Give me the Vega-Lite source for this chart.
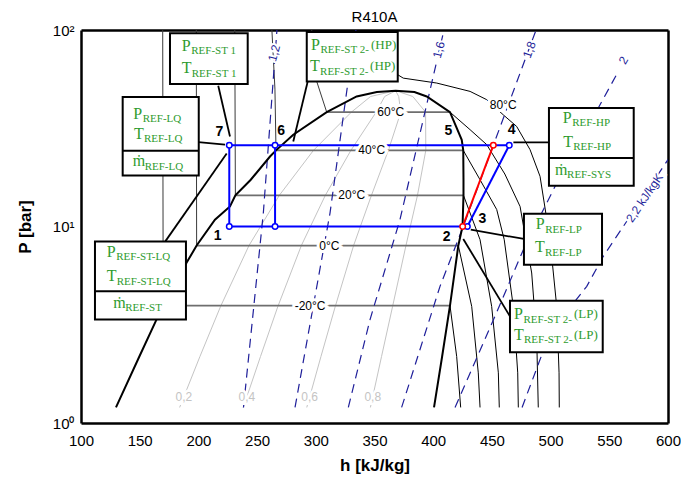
{
  "$schema": "https://vega.github.io/schema/vega-lite/v6.json",
  "width": 587,
  "height": 393,
  "autosize": "none",
  "padding": {"left": 81, "top": 30, "right": 13, "bottom": 59},
  "background": "white",
  "config": {"view": {"stroke": null}, "font": "Liberation Sans"},
  "title": {"text": "R410A", "fontSize": 15, "fontWeight": "normal", "font": "Liberation Sans", "color": "black", "offset": 0, "dy": 2},
  "datasets": {
    "lines": [
      {"kind": "dome", "id": "dome", "i": 1, "h": 129.8, "P": 1.2},
      {"kind": "dome", "id": "dome", "i": 2, "h": 149.7, "P": 2.18},
      {"kind": "dome", "id": "dome", "i": 3, "h": 163.5, "P": 3.28},
      {"kind": "dome", "id": "dome", "i": 4, "h": 170.0, "P": 3.96},
      {"kind": "dome", "id": "dome", "i": 5, "h": 190.0, "P": 6.55},
      {"kind": "dome", "id": "dome", "i": 6, "h": 198.5, "P": 8.0},
      {"kind": "dome", "id": "dome", "i": 7, "h": 214.1, "P": 10.83},
      {"kind": "dome", "id": "dome", "i": 8, "h": 226.9, "P": 12.65},
      {"kind": "dome", "id": "dome", "i": 9, "h": 231.5, "P": 14.4},
      {"kind": "dome", "id": "dome", "i": 10, "h": 244.6, "P": 17.3},
      {"kind": "dome", "id": "dome", "i": 11, "h": 261.0, "P": 22.7},
      {"kind": "dome", "id": "dome", "i": 12, "h": 266.1, "P": 24.4},
      {"kind": "dome", "id": "dome", "i": 13, "h": 280.8, "P": 29.3},
      {"kind": "dome", "id": "dome", "i": 14, "h": 309.3, "P": 38.2},
      {"kind": "dome", "id": "dome", "i": 15, "h": 334.8, "P": 45.9},
      {"kind": "dome", "id": "dome", "i": 16, "h": 352.0, "P": 48.3},
      {"kind": "dome", "id": "dome", "i": 17, "h": 368.0, "P": 49.1},
      {"kind": "dome", "id": "dome", "i": 18, "h": 384.0, "P": 48.3},
      {"kind": "dome", "id": "dome", "i": 19, "h": 394.5, "P": 45.9},
      {"kind": "dome", "id": "dome", "i": 20, "h": 414.3, "P": 38.2},
      {"kind": "dome", "id": "dome", "i": 21, "h": 424.3, "P": 27.6},
      {"kind": "dome", "id": "dome", "i": 22, "h": 425.6, "P": 24.4},
      {"kind": "dome", "id": "dome", "i": 23, "h": 425.8, "P": 17.3},
      {"kind": "dome", "id": "dome", "i": 24, "h": 425.8, "P": 14.4},
      {"kind": "dome", "id": "dome", "i": 25, "h": 425.0, "P": 10.0},
      {"kind": "dome", "id": "dome", "i": 26, "h": 421.4, "P": 8.0},
      {"kind": "dome", "id": "dome", "i": 27, "h": 414.3, "P": 3.96},
      {"kind": "dome", "id": "dome", "i": 28, "h": 407.6, "P": 2.18},
      {"kind": "dome", "id": "dome", "i": 29, "h": 400.7, "P": 1.2},

      {"kind": "iso", "id": "i-20", "i": 1, "h": 170.0, "P": 3.96},
      {"kind": "iso", "id": "i-20", "i": 2, "h": 414.3, "P": 3.96},
      {"kind": "iso", "id": "i0", "i": 1, "h": 198.5, "P": 8.0},
      {"kind": "iso", "id": "i0", "i": 2, "h": 421.4, "P": 8.0},
      {"kind": "iso", "id": "i20", "i": 1, "h": 231.5, "P": 14.4},
      {"kind": "iso", "id": "i20", "i": 2, "h": 425.8, "P": 14.4},
      {"kind": "iso", "id": "i40", "i": 1, "h": 266.1, "P": 24.4},
      {"kind": "iso", "id": "i40", "i": 2, "h": 425.6, "P": 24.4},
      {"kind": "iso", "id": "i60", "i": 1, "h": 309.3, "P": 38.2},
      {"kind": "iso", "id": "i60", "i": 2, "h": 414.3, "P": 38.2},

      {"kind": "liq", "id": "l-20", "i": 1, "h": 170.0, "P": 3.96},
      {"kind": "liq", "id": "l-20", "i": 2, "h": 169.6, "P": 100},
      {"kind": "liq", "id": "l0", "i": 1, "h": 198.5, "P": 8.0},
      {"kind": "liq", "id": "l0", "i": 2, "h": 198.2, "P": 100},
      {"kind": "liq", "id": "l20", "i": 1, "h": 231.5, "P": 14.4},
      {"kind": "liq", "id": "l20", "i": 2, "h": 231.0, "P": 100},
      {"kind": "liq", "id": "l40", "i": 1, "h": 266.1, "P": 24.4},
      {"kind": "liq", "id": "l40", "i": 2, "h": 265.2, "P": 50},
      {"kind": "liq", "id": "l40", "i": 3, "h": 262.6, "P": 100},
      {"kind": "liq", "id": "l60", "i": 1, "h": 309.3, "P": 38.2},
      {"kind": "liq", "id": "l60", "i": 2, "h": 300.8, "P": 54.7},
      {"kind": "liq", "id": "l60", "i": 3, "h": 296.5, "P": 100},

      {"kind": "sup", "id": "t-20", "i": 1, "h": 414.3, "P": 3.96},
      {"kind": "sup", "id": "t-20", "i": 2, "h": 420.0, "P": 2.18},
      {"kind": "sup", "id": "t-20", "i": 3, "h": 423.4, "P": 1.2},
      {"kind": "sup", "id": "t0", "i": 1, "h": 421.4, "P": 8.0},
      {"kind": "sup", "id": "t0", "i": 2, "h": 432.8, "P": 3.92},
      {"kind": "sup", "id": "t0", "i": 3, "h": 438.4, "P": 1.8},
      {"kind": "sup", "id": "t0", "i": 4, "h": 439.9, "P": 1.2},
      {"kind": "sup", "id": "t20", "i": 1, "h": 425.8, "P": 14.4},
      {"kind": "sup", "id": "t20", "i": 2, "h": 439.9, "P": 8.57},
      {"kind": "sup", "id": "t20", "i": 3, "h": 449.8, "P": 3.92},
      {"kind": "sup", "id": "t20", "i": 4, "h": 455.5, "P": 1.8},
      {"kind": "sup", "id": "t20", "i": 5, "h": 456.3, "P": 1.2},
      {"kind": "sup", "id": "t40", "i": 1, "h": 425.6, "P": 24.4},
      {"kind": "sup", "id": "t40", "i": 2, "h": 439.9, "P": 17.3},
      {"kind": "sup", "id": "t40", "i": 3, "h": 454.1, "P": 12.2},
      {"kind": "sup", "id": "t40", "i": 4, "h": 460.5, "P": 8.57},
      {"kind": "sup", "id": "t40", "i": 5, "h": 468.2, "P": 3.92},
      {"kind": "sup", "id": "t40", "i": 6, "h": 472.0, "P": 1.8},
      {"kind": "sup", "id": "t40", "i": 7, "h": 472.5, "P": 1.2},
      {"kind": "sup", "id": "t60", "i": 1, "h": 414.3, "P": 38.2},
      {"kind": "sup", "id": "t60", "i": 2, "h": 431.4, "P": 31.1},
      {"kind": "sup", "id": "t60", "i": 3, "h": 445.6, "P": 26.1},
      {"kind": "sup", "id": "t60", "i": 4, "h": 461.0, "P": 18.5},
      {"kind": "sup", "id": "t60", "i": 5, "h": 474.0, "P": 12.65},
      {"kind": "sup", "id": "t60", "i": 6, "h": 483.9, "P": 5.8},
      {"kind": "sup", "id": "t60", "i": 7, "h": 488.2, "P": 2.66},
      {"kind": "sup", "id": "t60", "i": 8, "h": 489.5, "P": 1.2},
      {"kind": "sup", "id": "t80", "i": 1, "h": 350.0, "P": 90},
      {"kind": "sup", "id": "t80", "i": 2, "h": 369.8, "P": 59.2},
      {"kind": "sup", "id": "t80", "i": 3, "h": 374.5, "P": 56.9},
      {"kind": "sup", "id": "t80", "i": 4, "h": 403.0, "P": 53.7},
      {"kind": "sup", "id": "t80", "i": 5, "h": 431.4, "P": 48.7},
      {"kind": "sup", "id": "t80", "i": 6, "h": 445.6, "P": 44.2},
      {"kind": "sup", "id": "t80", "i": 7, "h": 459.7, "P": 37.0},
      {"kind": "sup", "id": "t80", "i": 8, "h": 471.1, "P": 32.3},
      {"kind": "sup", "id": "t80", "i": 9, "h": 482.5, "P": 24.6},
      {"kind": "sup", "id": "t80", "i": 10, "h": 491.0, "P": 18.0},
      {"kind": "sup", "id": "t80", "i": 11, "h": 499.5, "P": 8.57},
      {"kind": "sup", "id": "t80", "i": 12, "h": 505.2, "P": 3.92},
      {"kind": "sup", "id": "t80", "i": 13, "h": 507.2, "P": 1.8},
      {"kind": "sup", "id": "t80", "i": 14, "h": 507.4, "P": 1.2},

      {"kind": "q", "id": "q2", "i": 1, "h": 184.0, "P": 1.2},
      {"kind": "q", "id": "q2", "i": 2, "h": 201.3, "P": 2.18},
      {"kind": "q", "id": "q2", "i": 3, "h": 218.9, "P": 3.92},
      {"kind": "q", "id": "q2", "i": 4, "h": 243.1, "P": 8.0},
      {"kind": "q", "id": "q2", "i": 5, "h": 268.9, "P": 14.4},
      {"kind": "q", "id": "q2", "i": 6, "h": 298.0, "P": 24.4},
      {"kind": "q", "id": "q2", "i": 7, "h": 330.3, "P": 38.2},
      {"kind": "q", "id": "q2", "i": 8, "h": 346.7, "P": 45.9},
      {"kind": "q", "id": "q2", "i": 9, "h": 368.0, "P": 49.1},
      {"kind": "q", "id": "q4", "i": 1, "h": 238.2, "P": 1.2},
      {"kind": "q", "id": "q4", "i": 2, "h": 252.9, "P": 2.18},
      {"kind": "q", "id": "q4", "i": 3, "h": 267.7, "P": 3.92},
      {"kind": "q", "id": "q4", "i": 4, "h": 287.7, "P": 8.0},
      {"kind": "q", "id": "q4", "i": 5, "h": 308.1, "P": 14.4},
      {"kind": "q", "id": "q4", "i": 6, "h": 329.9, "P": 24.4},
      {"kind": "q", "id": "q4", "i": 7, "h": 351.4, "P": 38.2},
      {"kind": "q", "id": "q4", "i": 8, "h": 358.7, "P": 45.9},
      {"kind": "q", "id": "q4", "i": 9, "h": 368.0, "P": 49.1},
      {"kind": "q", "id": "q6", "i": 1, "h": 292.3, "P": 1.2},
      {"kind": "q", "id": "q6", "i": 2, "h": 304.4, "P": 2.18},
      {"kind": "q", "id": "q6", "i": 3, "h": 316.6, "P": 3.92},
      {"kind": "q", "id": "q6", "i": 4, "h": 332.2, "P": 8.0},
      {"kind": "q", "id": "q6", "i": 5, "h": 347.4, "P": 14.4},
      {"kind": "q", "id": "q6", "i": 6, "h": 361.8, "P": 24.4},
      {"kind": "q", "id": "q6", "i": 7, "h": 372.4, "P": 38.2},
      {"kind": "q", "id": "q6", "i": 8, "h": 370.6, "P": 45.9},
      {"kind": "q", "id": "q6", "i": 9, "h": 368.0, "P": 49.1},
      {"kind": "q", "id": "q8", "i": 1, "h": 346.5, "P": 1.2},
      {"kind": "q", "id": "q8", "i": 2, "h": 356.0, "P": 2.18},
      {"kind": "q", "id": "q8", "i": 3, "h": 365.4, "P": 3.92},
      {"kind": "q", "id": "q8", "i": 4, "h": 376.8, "P": 8.0},
      {"kind": "q", "id": "q8", "i": 5, "h": 386.6, "P": 14.4},
      {"kind": "q", "id": "q8", "i": 6, "h": 393.7, "P": 24.4},
      {"kind": "q", "id": "q8", "i": 7, "h": 393.5, "P": 38.2},
      {"kind": "q", "id": "q8", "i": 8, "h": 382.6, "P": 45.9},
      {"kind": "q", "id": "q8", "i": 9, "h": 368.0, "P": 49.1},

      {"kind": "s", "id": "s12", "i": 1, "h": 238.4, "P": 1.2},
      {"kind": "s", "id": "s12", "i": 2, "h": 255.3, "P": 11.7},
      {"kind": "s", "id": "s12", "i": 3, "h": 266.9, "P": 100},
      {"kind": "s", "id": "s14", "i": 1, "h": 282.3, "P": 1.2},
      {"kind": "s", "id": "s14", "i": 2, "h": 312.1, "P": 11.7},
      {"kind": "s", "id": "s14", "i": 3, "h": 327.7, "P": 55.8},
      {"kind": "s", "id": "s14", "i": 4, "h": 334.2, "P": 100},
      {"kind": "s", "id": "s16", "i": 1, "h": 327.7, "P": 1.2},
      {"kind": "s", "id": "s16", "i": 2, "h": 346.2, "P": 3.36},
      {"kind": "s", "id": "s16", "i": 3, "h": 371.7, "P": 10.83},
      {"kind": "s", "id": "s16", "i": 4, "h": 409.2, "P": 100},
      {"kind": "s", "id": "s18", "i": 1, "h": 373.1, "P": 1.2},
      {"kind": "s", "id": "s18", "i": 2, "h": 405.8, "P": 4.96},
      {"kind": "s", "id": "s18", "i": 3, "h": 425.6, "P": 10.0},
      {"kind": "s", "id": "s18", "i": 4, "h": 487.6, "P": 100},
      {"kind": "s", "id": "s20", "i": 1, "h": 418.6, "P": 1.2},
      {"kind": "s", "id": "s20", "i": 2, "h": 452.6, "P": 3.49},
      {"kind": "s", "id": "s20", "i": 3, "h": 476.8, "P": 7.62},
      {"kind": "s", "id": "s20", "i": 4, "h": 503.8, "P": 16.0},
      {"kind": "s", "id": "s20", "i": 5, "h": 540.6, "P": 40.1},
      {"kind": "s", "id": "s20", "i": 6, "h": 556.0, "P": 59},
      {"kind": "s", "id": "s22", "i": 1, "h": 475.7, "P": 1.2},
      {"kind": "s", "id": "s22", "i": 2, "h": 499.5, "P": 2.87},
      {"kind": "s", "id": "s22", "i": 3, "h": 530.8, "P": 4.96},
      {"kind": "s", "id": "s22", "i": 4, "h": 544.9, "P": 7.05},
      {"kind": "s", "id": "s22", "i": 5, "h": 573.3, "P": 12.65},
      {"kind": "s", "id": "s22", "i": 6, "h": 600.0, "P": 21.9},

      {"kind": "blue", "id": "b1", "i": 1, "h": 226.3, "P": 25.9},
      {"kind": "blue", "id": "b1", "i": 2, "h": 464.8, "P": 25.9},
      {"kind": "blue", "id": "b2", "i": 1, "h": 226.3, "P": 25.9},
      {"kind": "blue", "id": "b2", "i": 2, "h": 226.3, "P": 10.0},
      {"kind": "blue", "id": "b3", "i": 1, "h": 265.3, "P": 25.9},
      {"kind": "blue", "id": "b3", "i": 2, "h": 265.3, "P": 10.0},
      {"kind": "blue", "id": "b4", "i": 1, "h": 226.3, "P": 10.0},
      {"kind": "blue", "id": "b4", "i": 2, "h": 429.1, "P": 10.0},
      {"kind": "blue", "id": "b5", "i": 1, "h": 429.1, "P": 10.0},
      {"kind": "blue", "id": "b5", "i": 2, "h": 464.8, "P": 25.9},
      {"kind": "red", "id": "r1", "i": 1, "h": 425.1, "P": 10.0},
      {"kind": "red", "id": "r1", "i": 2, "h": 451.2, "P": 25.9},

      {"kind": "lead", "id": "L1", "i": 1, "h": 216.9, "P": 52.0},
      {"kind": "lead", "id": "L1", "i": 2, "h": 226.9, "P": 28.7},
      {"kind": "lead", "id": "L2", "i": 1, "h": 293.1, "P": 54.7},
      {"kind": "lead", "id": "L2", "i": 2, "h": 280.8, "P": 27.1},
      {"kind": "lead", "id": "L3", "i": 1, "h": 199.9, "P": 26.9},
      {"kind": "lead", "id": "L3", "i": 2, "h": 222.7, "P": 26.1},
      {"kind": "lead", "id": "L4", "i": 1, "h": 468.3, "P": 26.8},
      {"kind": "lead", "id": "L4", "i": 2, "h": 498.6, "P": 26.8},
      {"kind": "lead", "id": "L5", "i": 1, "h": 432.0, "P": 9.63},
      {"kind": "lead", "id": "L5", "i": 2, "h": 477.3, "P": 8.64},
      {"kind": "lead", "id": "L6", "i": 1, "h": 425.6, "P": 8.64},
      {"kind": "lead", "id": "L6", "i": 2, "h": 465.4, "P": 3.49},
      {"kind": "lead", "id": "L7", "i": 1, "h": 171.8, "P": 8.4},
      {"kind": "lead", "id": "L7", "i": 2, "h": 224.1, "P": 23.5}
    ],
    "points": [
      {"c": "blue", "h": 226.3, "P": 25.9},
      {"c": "blue", "h": 265.3, "P": 25.9},
      {"c": "blue", "h": 464.8, "P": 25.9},
      {"c": "blue", "h": 226.3, "P": 10.0},
      {"c": "blue", "h": 265.3, "P": 10.0},
      {"c": "blue", "h": 429.1, "P": 10.0},
      {"c": "red", "h": 425.1, "P": 10.0},
      {"c": "red", "h": 451.2, "P": 25.9}
    ],
    "boxes": [
      {"id": "B1", "h1": 175.8, "h2": 242.0, "P1": 53.1, "P2": 96.4},
      {"id": "B2", "h1": 292.3, "h2": 369.8, "P1": 54.7, "P2": 97.6},
      {"id": "B3", "h1": 135.5, "h2": 200.3, "P1": 18.2, "P2": 45.6, "div": 24.3},
      {"id": "B4", "h1": 498.6, "h2": 570.8, "P1": 16.1, "P2": 40.1, "div": 22.3},
      {"id": "B5", "h1": 477.3, "h2": 543.8, "P1": 6.39, "P2": 11.6},
      {"id": "B6", "h1": 465.4, "h2": 544.4, "P1": 2.29, "P2": 4.19},
      {"id": "B7", "h1": 111.9, "h2": 189.4, "P1": 3.36, "P2": 8.4, "div": 4.68}
    ],
    "boxtext": [
      {"letter": "P", "sub": "REF-ST 1", "h": 185.8, "P": 78.6},
      {"letter": "T", "sub": "REF-ST 1", "h": 185.8, "P": 60.4},
      {"letter": "P", "sub": "REF-ST 2-", "sup": "(HP)", "h": 295.9, "P": 79.3},
      {"letter": "T", "sub": "REF-ST 2-", "sup": "(HP)", "h": 295.1, "P": 61.5},
      {"letter": "P", "sub": "REF-LQ", "h": 144.5, "P": 35.3},
      {"letter": "T", "sub": "REF-LQ", "h": 145.1, "P": 28.0},
      {"letter": "ṁ", "sub": "REF-LQ", "h": 144.0, "P": 20.2},
      {"letter": "P", "sub": "REF-HP", "h": 510.3, "P": 33.8},
      {"letter": "T", "sub": "REF-HP", "h": 510.8, "P": 25.4},
      {"letter": "ṁ", "sub": "REF-SYS", "h": 503.8, "P": 18.3},
      {"letter": "P", "sub": "REF-LP", "h": 487.3, "P": 9.71},
      {"letter": "T", "sub": "REF-LP", "h": 486.7, "P": 7.38},
      {"letter": "P", "sub": "REF-ST 2-", "sup": "(LP)", "h": 468.8, "P": 3.38},
      {"letter": "T", "sub": "REF-ST 2-", "sup": "(LP)", "h": 468.8, "P": 2.66},
      {"letter": "P", "sub": "REF-ST-LQ", "h": 121.9, "P": 7.0},
      {"letter": "T", "sub": "REF-ST-LQ", "h": 121.9, "P": 5.26},
      {"letter": "ṁ", "sub": "REF-ST", "h": 127.5, "P": 3.85}
    ],
    "isolabels": [
      {"t": "60°C", "h": 363.8, "P": 38.2},
      {"t": "40°C", "h": 347.6, "P": 24.4},
      {"t": "20°C", "h": 330.6, "P": 14.4},
      {"t": "0°C", "h": 311.5, "P": 8.0},
      {"t": "-20°C", "h": 295.1, "P": 3.96},
      {"t": "80°C", "h": 459.6, "P": 41.7}
    ],
    "qlabels": [
      {"t": "0,2", "h": 187.6, "P": 1.36},
      {"t": "0,4", "h": 241.3, "P": 1.36},
      {"t": "0,6", "h": 294.8, "P": 1.36},
      {"t": "0,8", "h": 348.5, "P": 1.36}
    ],
    "slabels": [
      {"t": "1,2", "h": 264.5, "P": 76.3, "a": 285},
      {"t": "1,6", "h": 404.8, "P": 79.3, "a": 285},
      {"t": "1,8", "h": 482.0, "P": 79.3, "a": 290},
      {"t": "2", "h": 562.0, "P": 70.0, "a": 300},
      {"t": "2,2 kJ/kgK", "h": 580.0, "P": 14.0, "a": 304}
    ],
    "numlabels": [
      {"t": "7", "h": 217.8, "P": 30.1},
      {"t": "6", "h": 270.4, "P": 30.5},
      {"t": "5", "h": 412.9, "P": 30.5},
      {"t": "4", "h": 466.9, "P": 31.1},
      {"t": "3", "h": 441.8, "P": 10.9},
      {"t": "2", "h": 411.5, "P": 8.83},
      {"t": "1", "h": 216.4, "P": 8.9}
    ],
    "anchor": [{"h": 100, "P": 1}],
    "ticks": [
      {"ax": "x", "maj": 0, "v": 110}, {"ax": "x", "maj": 0, "v": 120}, {"ax": "x", "maj": 0, "v": 130}, {"ax": "x", "maj": 0, "v": 140},
      {"ax": "x", "maj": 1, "v": 150},
      {"ax": "x", "maj": 0, "v": 160}, {"ax": "x", "maj": 0, "v": 170}, {"ax": "x", "maj": 0, "v": 180}, {"ax": "x", "maj": 0, "v": 190},
      {"ax": "x", "maj": 1, "v": 200},
      {"ax": "x", "maj": 0, "v": 210}, {"ax": "x", "maj": 0, "v": 220}, {"ax": "x", "maj": 0, "v": 230}, {"ax": "x", "maj": 0, "v": 240},
      {"ax": "x", "maj": 1, "v": 250},
      {"ax": "x", "maj": 0, "v": 260}, {"ax": "x", "maj": 0, "v": 270}, {"ax": "x", "maj": 0, "v": 280}, {"ax": "x", "maj": 0, "v": 290},
      {"ax": "x", "maj": 1, "v": 300},
      {"ax": "x", "maj": 0, "v": 310}, {"ax": "x", "maj": 0, "v": 320}, {"ax": "x", "maj": 0, "v": 330}, {"ax": "x", "maj": 0, "v": 340},
      {"ax": "x", "maj": 1, "v": 350},
      {"ax": "x", "maj": 0, "v": 360}, {"ax": "x", "maj": 0, "v": 370}, {"ax": "x", "maj": 0, "v": 380}, {"ax": "x", "maj": 0, "v": 390},
      {"ax": "x", "maj": 1, "v": 400},
      {"ax": "x", "maj": 0, "v": 410}, {"ax": "x", "maj": 0, "v": 420}, {"ax": "x", "maj": 0, "v": 430}, {"ax": "x", "maj": 0, "v": 440},
      {"ax": "x", "maj": 1, "v": 450},
      {"ax": "x", "maj": 0, "v": 460}, {"ax": "x", "maj": 0, "v": 470}, {"ax": "x", "maj": 0, "v": 480}, {"ax": "x", "maj": 0, "v": 490},
      {"ax": "x", "maj": 1, "v": 500},
      {"ax": "x", "maj": 0, "v": 510}, {"ax": "x", "maj": 0, "v": 520}, {"ax": "x", "maj": 0, "v": 530}, {"ax": "x", "maj": 0, "v": 540},
      {"ax": "x", "maj": 1, "v": 550},
      {"ax": "x", "maj": 0, "v": 560}, {"ax": "x", "maj": 0, "v": 570}, {"ax": "x", "maj": 0, "v": 580}, {"ax": "x", "maj": 0, "v": 590},
      {"ax": "y", "maj": 0, "v": 2}, {"ax": "y", "maj": 0, "v": 3}, {"ax": "y", "maj": 0, "v": 4}, {"ax": "y", "maj": 0, "v": 5},
      {"ax": "y", "maj": 0, "v": 6}, {"ax": "y", "maj": 0, "v": 7}, {"ax": "y", "maj": 0, "v": 8}, {"ax": "y", "maj": 0, "v": 9},
      {"ax": "y", "maj": 1, "v": 10},
      {"ax": "y", "maj": 0, "v": 20}, {"ax": "y", "maj": 0, "v": 30}, {"ax": "y", "maj": 0, "v": 40}, {"ax": "y", "maj": 0, "v": 50},
      {"ax": "y", "maj": 0, "v": 60}, {"ax": "y", "maj": 0, "v": 70}, {"ax": "y", "maj": 0, "v": 80}, {"ax": "y", "maj": 0, "v": 90}
    ]
  },
  "resolve": {"axis": {"x": "independent", "y": "independent"}},
  "encoding": {
    "x": {"field": "h", "type": "quantitative", "scale": {"domain": [100, 600], "nice": false, "zero": false}, "axis": null},
    "y": {"field": "P", "type": "quantitative", "scale": {"type": "log", "domain": [1, 100], "nice": false}, "axis": null}
  },
  "layer": [
    {
      "data": {"name": "lines"},
      "transform": [{"filter": "datum.kind === 'q'"}],
      "mark": {"type": "line", "color": "#c4c4c4", "strokeWidth": 1, "clip": true},
      "encoding": {
        "x": {"field": "h", "type": "quantitative", "scale": {"domain": [100, 600], "nice": false, "zero": false},
          "axis": {"orient": "bottom", "values": [100,150,200,250,300,350,400,450,500,550,600],
            "labelOverlap": false, "labelFlush": false, "ticks": false,
            "domainColor": "black", "domainWidth": 2.5, "grid": false,
            "labelFontSize": 15, "labelColor": "black", "labelFont": "Liberation Sans", "labelPadding": 10,
            "title": "h [kJ/kg]", "titleFontSize": 17, "titleFontWeight": "bold", "titleColor": "black", "titleFont": "Liberation Sans", "titlePadding": 9}},
        "y": {"field": "P", "type": "quantitative", "scale": {"type": "log", "domain": [1, 100], "nice": false},
          "axis": {"orient": "left", "values": [1,10,100],
            "labelExpr": "datum.value === 1 ? '10⁰' : datum.value === 10 ? '10¹' : '10²'", "labelOverlap": false, "labelFlush": false, "ticks": false,
            "domainColor": "black", "domainWidth": 2.5, "grid": false,
            "labelFontSize": 15, "labelColor": "black", "labelFont": "Liberation Sans", "labelPadding": 7,
            "title": "P [bar]", "titleFontSize": 17, "titleFontWeight": "bold", "titleColor": "black", "titleFont": "Liberation Sans", "titlePadding": 18}},
        "detail": {"field": "id"},
        "order": {"field": "i", "type": "quantitative"}
      }
    },
    {
      "data": {"name": "anchor"},
      "mark": {"type": "point", "opacity": 0},
      "encoding": {
        "x": {"field": "h", "type": "quantitative", "scale": {"domain": [100, 600], "nice": false, "zero": false},
          "axis": {"orient": "top", "values": [100, 600], "labels": false, "title": null, "grid": false, "ticks": false, "domainColor": "black", "domainWidth": 2.5}},
        "y": {"field": "P", "type": "quantitative", "scale": {"type": "log", "domain": [1, 100], "nice": false},
          "axis": {"orient": "right", "values": [1, 100], "labels": false, "title": null, "grid": false, "ticks": false, "domainColor": "black", "domainWidth": 2.5}}
      }
    },
    {
      "data": {"name": "ticks"},
      "transform": [{"filter": "datum.ax === 'x' && datum.maj === 0"}],
      "mark": {"type": "tick", "orient": "vertical", "size": 4, "thickness": 1, "color": "black", "yOffset": -2},
      "encoding": {
        "x": {"field": "v", "type": "quantitative", "scale": {"domain": [100, 600], "nice": false, "zero": false}, "axis": null},
        "y": {"datum": 1, "type": "quantitative", "scale": {"type": "log", "domain": [1, 100], "nice": false}, "axis": null}
      }
    },
    {
      "data": {"name": "ticks"},
      "transform": [{"filter": "datum.ax === 'x' && datum.maj === 0"}],
      "mark": {"type": "tick", "orient": "vertical", "size": 4, "thickness": 1, "color": "black", "yOffset": 2},
      "encoding": {
        "x": {"field": "v", "type": "quantitative", "scale": {"domain": [100, 600], "nice": false, "zero": false}, "axis": null},
        "y": {"datum": 100, "type": "quantitative", "scale": {"type": "log", "domain": [1, 100], "nice": false}, "axis": null}
      }
    },
    {
      "data": {"name": "ticks"},
      "transform": [{"filter": "datum.ax === 'x' && datum.maj === 1"}],
      "mark": {"type": "tick", "orient": "vertical", "size": 7, "thickness": 1, "color": "black", "yOffset": -3.5},
      "encoding": {
        "x": {"field": "v", "type": "quantitative", "scale": {"domain": [100, 600], "nice": false, "zero": false}, "axis": null},
        "y": {"datum": 1, "type": "quantitative", "scale": {"type": "log", "domain": [1, 100], "nice": false}, "axis": null}
      }
    },
    {
      "data": {"name": "ticks"},
      "transform": [{"filter": "datum.ax === 'x' && datum.maj === 1"}],
      "mark": {"type": "tick", "orient": "vertical", "size": 7, "thickness": 1, "color": "black", "yOffset": 3.5},
      "encoding": {
        "x": {"field": "v", "type": "quantitative", "scale": {"domain": [100, 600], "nice": false, "zero": false}, "axis": null},
        "y": {"datum": 100, "type": "quantitative", "scale": {"type": "log", "domain": [1, 100], "nice": false}, "axis": null}
      }
    },
    {
      "data": {"name": "ticks"},
      "transform": [{"filter": "datum.ax === 'y' && datum.maj === 0"}],
      "mark": {"type": "tick", "orient": "horizontal", "size": 4, "thickness": 1, "color": "black", "xOffset": 2},
      "encoding": {
        "y": {"field": "v", "type": "quantitative", "scale": {"type": "log", "domain": [1, 100], "nice": false}, "axis": null},
        "x": {"datum": 100, "type": "quantitative", "scale": {"domain": [100, 600], "nice": false, "zero": false}, "axis": null}
      }
    },
    {
      "data": {"name": "ticks"},
      "transform": [{"filter": "datum.ax === 'y' && datum.maj === 0"}],
      "mark": {"type": "tick", "orient": "horizontal", "size": 4, "thickness": 1, "color": "black", "xOffset": -2},
      "encoding": {
        "y": {"field": "v", "type": "quantitative", "scale": {"type": "log", "domain": [1, 100], "nice": false}, "axis": null},
        "x": {"datum": 600, "type": "quantitative", "scale": {"domain": [100, 600], "nice": false, "zero": false}, "axis": null}
      }
    },
    {
      "data": {"name": "ticks"},
      "transform": [{"filter": "datum.ax === 'y' && datum.maj === 1"}],
      "mark": {"type": "tick", "orient": "horizontal", "size": 7, "thickness": 1, "color": "black", "xOffset": 3.5},
      "encoding": {
        "y": {"field": "v", "type": "quantitative", "scale": {"type": "log", "domain": [1, 100], "nice": false}, "axis": null},
        "x": {"datum": 100, "type": "quantitative", "scale": {"domain": [100, 600], "nice": false, "zero": false}, "axis": null}
      }
    },
    {
      "data": {"name": "ticks"},
      "transform": [{"filter": "datum.ax === 'y' && datum.maj === 1"}],
      "mark": {"type": "tick", "orient": "horizontal", "size": 7, "thickness": 1, "color": "black", "xOffset": -3.5},
      "encoding": {
        "y": {"field": "v", "type": "quantitative", "scale": {"type": "log", "domain": [1, 100], "nice": false}, "axis": null},
        "x": {"datum": 600, "type": "quantitative", "scale": {"domain": [100, 600], "nice": false, "zero": false}, "axis": null}
      }
    },
    {
      "data": {"name": "lines"},
      "transform": [{"filter": "datum.kind === 'iso'"}],
      "mark": {"type": "line", "color": "#6e6e6e", "strokeWidth": 1.8, "clip": true},
      "encoding": {"detail": {"field": "id"}, "order": {"field": "i", "type": "quantitative"}}
    },
    {
      "data": {"name": "lines"},
      "transform": [{"filter": "datum.kind === 'liq'"}],
      "mark": {"type": "line", "color": "#3a3a3a", "strokeWidth": 1, "clip": true},
      "encoding": {"detail": {"field": "id"}, "order": {"field": "i", "type": "quantitative"}}
    },
    {
      "data": {"name": "lines"},
      "transform": [{"filter": "datum.kind === 'sup'"}],
      "mark": {"type": "line", "color": "black", "strokeWidth": 1, "clip": true},
      "encoding": {"detail": {"field": "id"}, "order": {"field": "i", "type": "quantitative"}}
    },
    {
      "data": {"name": "lines"},
      "transform": [{"filter": "datum.kind === 's'"}],
      "mark": {"type": "line", "color": "#1f1f9a", "strokeWidth": 1.2, "strokeDash": [9, 6], "clip": true},
      "encoding": {"detail": {"field": "id"}, "order": {"field": "i", "type": "quantitative"}}
    },
    {
      "data": {"name": "lines"},
      "transform": [{"filter": "datum.kind === 'dome'"}],
      "mark": {"type": "line", "color": "black", "strokeWidth": 2, "clip": true},
      "encoding": {"detail": {"field": "id"}, "order": {"field": "i", "type": "quantitative"}}
    },
    {
      "data": {"name": "lines"},
      "transform": [{"filter": "datum.kind === 'lead'"}],
      "mark": {"type": "line", "color": "black", "strokeWidth": 1.8, "clip": true},
      "encoding": {"detail": {"field": "id"}, "order": {"field": "i", "type": "quantitative"}}
    },
    {
      "data": {"name": "lines"},
      "transform": [{"filter": "datum.kind === 'blue'"}],
      "mark": {"type": "line", "color": "#0000ff", "strokeWidth": 2, "clip": true},
      "encoding": {"detail": {"field": "id"}, "order": {"field": "i", "type": "quantitative"}}
    },
    {
      "data": {"name": "lines"},
      "transform": [{"filter": "datum.kind === 'red'"}],
      "mark": {"type": "line", "color": "#ff0000", "strokeWidth": 2, "clip": true},
      "encoding": {"detail": {"field": "id"}, "order": {"field": "i", "type": "quantitative"}}
    },
    {
      "data": {"name": "points"},
      "mark": {"type": "point", "shape": "circle", "filled": false, "fill": "white", "fillOpacity": 1, "size": 30, "strokeWidth": 1.5, "opacity": 1},
      "encoding": {
        "stroke": {"field": "c", "type": "nominal", "scale": {"domain": ["blue", "red"], "range": ["#0000ff", "#ff0000"]}, "legend": null}
      }
    },
    {
      "data": {"name": "isolabels"},
      "mark": {"type": "text", "fontSize": 12, "font": "Liberation Sans", "stroke": "white", "strokeWidth": 6, "fill": "white", "align": "center", "baseline": "middle"},
      "encoding": {"text": {"field": "t"}}
    },
    {
      "data": {"name": "isolabels"},
      "mark": {"type": "text", "fontSize": 12, "font": "Liberation Sans", "color": "black", "align": "center", "baseline": "middle"},
      "encoding": {"text": {"field": "t"}}
    },
    {
      "data": {"name": "qlabels"},
      "mark": {"type": "text", "fontSize": 12, "font": "Liberation Sans", "stroke": "white", "strokeWidth": 5, "fill": "white", "align": "center", "baseline": "middle"},
      "encoding": {"text": {"field": "t"}}
    },
    {
      "data": {"name": "qlabels"},
      "mark": {"type": "text", "fontSize": 12, "font": "Liberation Sans", "color": "#c4c4c4", "align": "center", "baseline": "middle"},
      "encoding": {"text": {"field": "t"}}
    },
    {
      "data": {"name": "slabels"},
      "mark": {"type": "text", "fontSize": 12, "font": "Liberation Sans", "stroke": "white", "strokeWidth": 4, "fill": "white", "align": "center", "baseline": "middle"},
      "encoding": {"text": {"field": "t"}, "angle": {"field": "a", "type": "quantitative", "scale": null}}
    },
    {
      "data": {"name": "slabels"},
      "mark": {"type": "text", "fontSize": 12, "font": "Liberation Sans", "color": "#1f1f9a", "align": "center", "baseline": "middle"},
      "encoding": {"text": {"field": "t"}, "angle": {"field": "a", "type": "quantitative", "scale": null}}
    },
    {
      "data": {"name": "numlabels"},
      "mark": {"type": "text", "fontSize": 14, "fontWeight": "bold", "font": "Liberation Sans", "color": "black", "align": "center", "baseline": "middle"},
      "encoding": {"text": {"field": "t"}}
    },
    {
      "data": {"name": "boxes"},
      "mark": {"type": "rect", "fill": "white", "stroke": "black", "strokeWidth": 2},
      "encoding": {
        "x": {"field": "h1", "type": "quantitative", "scale": {"domain": [100, 600], "nice": false, "zero": false}, "axis": null},
        "x2": {"field": "h2"},
        "y": {"field": "P1", "type": "quantitative", "scale": {"type": "log", "domain": [1, 100], "nice": false}, "axis": null},
        "y2": {"field": "P2"}
      }
    },
    {
      "data": {"name": "boxes"},
      "transform": [{"filter": "isValid(datum.div)"}],
      "mark": {"type": "rule", "stroke": "black", "strokeWidth": 2},
      "encoding": {
        "x": {"field": "h1", "type": "quantitative", "scale": {"domain": [100, 600], "nice": false, "zero": false}, "axis": null},
        "x2": {"field": "h2"},
        "y": {"field": "div", "type": "quantitative", "scale": {"type": "log", "domain": [1, 100], "nice": false}, "axis": null}
      }
    },
    {
      "data": {"name": "boxtext"},
      "mark": {"type": "text", "fontSize": 16, "font": "Liberation Serif", "color": "#2e9b2e", "align": "left", "baseline": "alphabetic"},
      "encoding": {"text": {"field": "letter"}}
    },
    {
      "data": {"name": "boxtext"},
      "transform": [{"filter": "datum.letter === 'P'"}],
      "mark": {"type": "text", "fontSize": 11, "font": "Liberation Serif", "color": "#2e9b2e", "align": "left", "baseline": "alphabetic", "dx": 9.5, "dy": 3.5},
      "encoding": {"text": {"field": "sub"}}
    },
    {
      "data": {"name": "boxtext"},
      "transform": [{"filter": "datum.letter === 'T'"}],
      "mark": {"type": "text", "fontSize": 11, "font": "Liberation Serif", "color": "#2e9b2e", "align": "left", "baseline": "alphabetic", "dx": 10, "dy": 3.5},
      "encoding": {"text": {"field": "sub"}}
    },
    {
      "data": {"name": "boxtext"},
      "transform": [{"filter": "datum.letter === 'ṁ'"}],
      "mark": {"type": "text", "fontSize": 11, "font": "Liberation Serif", "color": "#2e9b2e", "align": "left", "baseline": "alphabetic", "dx": 12, "dy": 3.5},
      "encoding": {"text": {"field": "sub"}}
    },
    {
      "data": {"name": "boxtext"},
      "transform": [{"filter": "isValid(datum.sup)"}],
      "mark": {"type": "text", "fontSize": 13, "font": "Liberation Serif", "color": "#2e9b2e", "align": "left", "baseline": "alphabetic", "dx": 60, "dy": -1},
      "encoding": {"text": {"field": "sup"}}
    }
  ]
}
